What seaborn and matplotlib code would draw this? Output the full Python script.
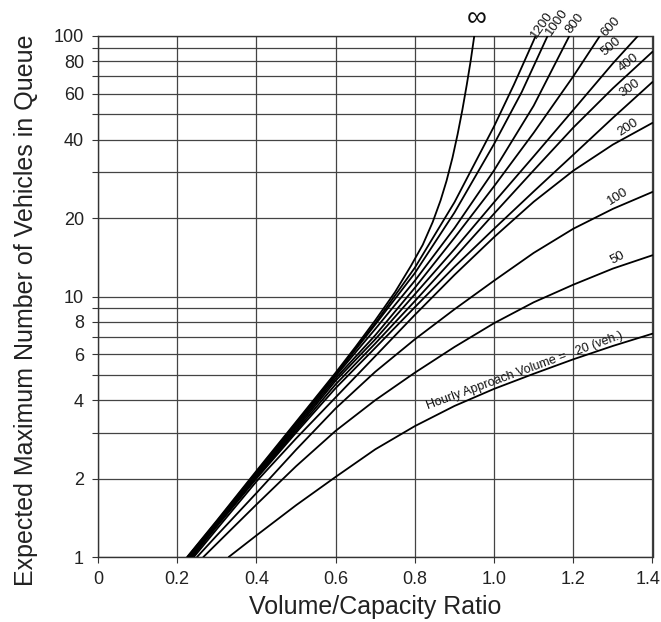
import matplotlib
matplotlib.use("Agg")
import numpy as np
import pandas as pd
import matplotlib.pyplot as plt
import matplotlib.transforms as mtransforms
import seaborn as sns
from matplotlib.ticker import NullFormatter

# curvas (x = v/c, y = fila máxima esperada)
volumes = ["inf", "1200", "1000", "800", "600", "500", "400", "300", "200", "100", "50", "20"]

x_inf = [0.225, 0.3, 0.4, 0.5, 0.6, 0.65, 0.7, 0.75, 0.79, 0.82, 0.845, 0.865, 0.88, 0.895, 0.908, 0.92, 0.931, 0.941, 0.95]
y_inf = [1.0, 1.38, 2.14, 3.3, 5.1, 6.4, 8.1, 10.4, 13.1, 15.8, 19.3, 23.4, 27.8, 34.1, 42.0, 52.1, 64.9, 80.4, 100.0]

x_1200 = [0.226, 0.3, 0.4, 0.5, 0.6, 0.7, 0.8, 0.9, 1.0, 1.05, 1.105]
y_1200 = [1.0, 1.37, 2.12, 3.27, 5.05, 7.9, 12.9, 23.0, 45.0, 65.0, 100.0]

x_1000 = [0.228, 0.3, 0.4, 0.5, 0.6, 0.7, 0.8, 0.9, 1.0, 1.07, 1.135]
y_1000 = [1.0, 1.36, 2.1, 3.24, 5.0, 7.8, 12.3, 21.0, 38.5, 61.0, 100.0]

x_800 = [0.23, 0.3, 0.4, 0.5, 0.6, 0.7, 0.8, 0.9, 1.0, 1.1, 1.19]
y_800 = [1.0, 1.35, 2.08, 3.2, 4.95, 7.5, 11.5, 18.3, 30.5, 54.0, 100.0]

x_600 = [0.232, 0.3, 0.4, 0.5, 0.6, 0.7, 0.8, 0.9, 1.0, 1.1, 1.2, 1.267]
y_600 = [1.0, 1.34, 2.06, 3.15, 4.85, 7.1, 10.8, 16.8, 26.5, 42.5, 70.0, 100.0]

x_500 = [0.234, 0.3, 0.4, 0.5, 0.6, 0.7, 0.8, 0.9, 1.0, 1.1, 1.2, 1.3, 1.363]
y_500 = [1.0, 1.33, 2.04, 3.1, 4.75, 6.85, 10.2, 15.2, 23.0, 34.5, 52.0, 78.5, 100.0]

x_400 = [0.236, 0.3, 0.4, 0.5, 0.6, 0.7, 0.8, 0.9, 1.0, 1.1, 1.2, 1.3, 1.4]
y_400 = [1.0, 1.32, 2.02, 3.05, 4.6, 6.6, 9.6, 14.1, 20.8, 30.5, 44.5, 63.0, 87.0]

x_300 = [0.238, 0.3, 0.4, 0.5, 0.6, 0.7, 0.8, 0.9, 1.0, 1.1, 1.2, 1.3, 1.4]
y_300 = [1.0, 1.31, 2.0, 3.0, 4.45, 6.35, 9.1, 13.0, 18.2, 25.3, 35.0, 48.5, 66.6]

x_200 = [0.242, 0.3, 0.4, 0.5, 0.6, 0.7, 0.8, 0.9, 1.0, 1.1, 1.2, 1.3, 1.4]
y_200 = [1.0, 1.28, 1.95, 2.85, 4.1, 5.9, 8.5, 12.1, 16.9, 23.1, 30.4, 38.3, 46.4]

x_100 = [0.25, 0.3, 0.4, 0.5, 0.6, 0.7, 0.8, 0.9, 1.0, 1.1, 1.2, 1.3, 1.4]
y_100 = [1.0, 1.21, 1.76, 2.58, 3.72, 5.14, 6.85, 8.93, 11.5, 14.7, 18.2, 21.7, 25.2]

x_50 = [0.266, 0.3, 0.4, 0.5, 0.6, 0.7, 0.8, 0.9, 1.0, 1.1, 1.2, 1.3, 1.4]
y_50 = [1.0, 1.125, 1.59, 2.23, 3.05, 4.0, 5.1, 6.4, 7.9, 9.5, 11.1, 12.8, 14.4]

x_20 = [0.33, 0.4, 0.5, 0.6, 0.7, 0.8, 0.9, 1.0, 1.1, 1.2, 1.3, 1.4]
y_20 = [1.0, 1.21, 1.58, 2.03, 2.59, 3.18, 3.8, 4.42, 5.05, 5.74, 6.46, 7.2]

curvas_x = [x_inf, x_1200, x_1000, x_800, x_600, x_500, x_400, x_300, x_200, x_100, x_50, x_20]
curvas_y = [y_inf, y_1200, y_1000, y_800, y_600, y_500, y_400, y_300, y_200, y_100, y_50, y_20]

x_ticks = [0, 0.2, 0.4, 0.6, 0.8, 1.0, 1.2, 1.4]
x_tick_labels = ["0", "0.2", "0.4", "0.6", "0.8", "1.0", "1.2", "1.4"]
y_ticks = [1, 2, 4, 6, 8, 10, 20, 40, 60, 80, 100]
y_tick_labels = ["1", "2", "4", "6", "8", "10", "20", "40", "60", "80", "100"]
y_minor = [3, 5, 7, 9, 30, 50, 70, 90]

# rótulos das curvas
rotulos = ["∞", "1200", "1000", "800", "600", "500", "400", "300", "200", "100", "50",
           "Hourly Approach Volume =   20 (veh.)"]
rot_pos = [(0.955, 116), (1.121, 110), (1.158, 113), (1.204, 112), (1.294, 108), (1.294, 90.7),
           (1.339, 79), (1.342, 63), (1.339, 44.7), (1.312, 24.1), (1.312, 14.06), (1.078, 5.18)]
rot_ang = [0, 55, 55, 52, 47, 40, 38, 35, 33, 32, 28, 20]
rot_size = [20, 9.5, 9.5, 9.5, 9.5, 9.5, 9.5, 9.5, 9.5, 9.5, 9.5, 9]

dados = {"vc": [], "fila": [], "volume": []}
for v, xs, ys in zip(volumes, curvas_x, curvas_y):
    dados["vc"] += xs
    dados["fila"] += ys
    dados["volume"] += [v] * len(xs)
df = pd.DataFrame(dados)

sns.set_theme(style="white")
plt.rcParams["font.family"] = ["Liberation Sans", "DejaVu Sans"]

fig = plt.figure(figsize=(6.61, 6.22), dpi=100)
ax = fig.add_axes([98 / 661, 65 / 622, 554.5 / 661, 521 / 622])

sns.lineplot(data=df, x="vc", y="fila", hue="volume", palette={v: "black" for v in volumes},
             estimator=None, sort=False, legend=False, linewidth=1.3, ax=ax, zorder=3)

ax.set_yscale("log")
ax.set_xlim(0, 1.4)
ax.set_ylim(1, 100)
ax.set_xticks(x_ticks)
ax.set_xticklabels(x_tick_labels)
ax.set_yticks(y_ticks)
ax.set_yticklabels(y_tick_labels)
ax.set_yticks(y_minor, minor=True)
ax.yaxis.set_minor_formatter(NullFormatter())
ax.tick_params(which="both", direction="out", length=4, width=0.8, color="#333333",
               bottom=True, left=True, labelsize=13, labelcolor="#222222", pad=6)

# o "1.4" fica encostado na borda direita
ultimo = ax.get_xticklabels()[-1]
ultimo.set_ha("right")
ultimo.set_transform(ultimo.get_transform() + mtransforms.ScaledTranslation(8 / 100, 0, fig.dpi_scale_trans))

ax.set_axisbelow(True)
ax.grid(True, which="major", axis="x", color="#444444", linewidth=0.9)
ax.grid(True, which="both", axis="y", color="#444444", linewidth=0.9)
for s in ax.spines.values():
    s.set_color("#333333")
    s.set_linewidth(1.0)

ax.set_xlabel("Volume/Capacity Ratio", fontsize=18, color="#222222")
ax.set_ylabel("Expected Maximum Number of Vehicles in Queue", fontsize=18, color="#222222")
ax.xaxis.set_label_coords(0.5, -0.072)
ax.yaxis.set_label_coords(-0.108, 0.474)

for txt, (px, py), ang, tam in zip(rotulos, rot_pos, rot_ang, rot_size):
    ax.text(px, py, txt, rotation=ang, rotation_mode="anchor", ha="center", va="center",
            fontsize=tam, color="#111111", clip_on=False)

fig.savefig("out.png", dpi=100)
